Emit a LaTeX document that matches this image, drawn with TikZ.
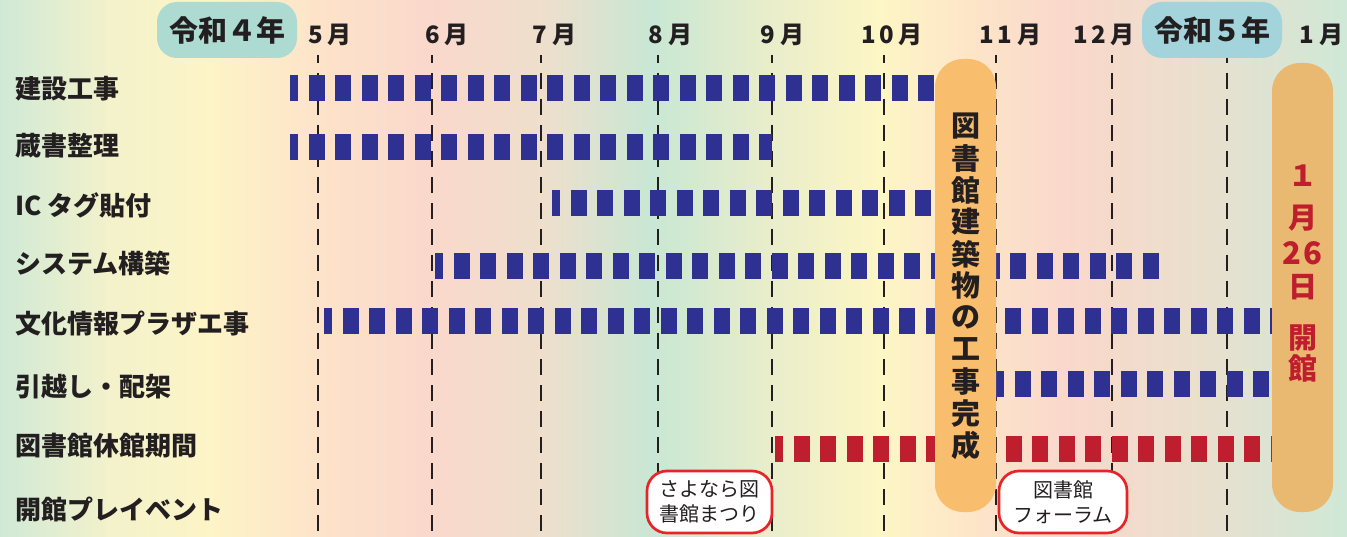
\documentclass[tikz,border=0pt]{standalone}
\usepackage{fontspec}
\newfontfamily\jp{Noto Sans CJK JP}
\definecolor{blueb}{HTML}{2E3192}
\definecolor{redb}{HTML}{BE1E2D}
\definecolor{txt}{HTML}{231F20}
\definecolor{orangeA}{HTML}{F9BD6E}
\definecolor{orangeB}{HTML}{E9B972}
\definecolor{tealA}{HTML}{ADDAD1}
\definecolor{blueA}{HTML}{A3D3DB}
\definecolor{evred}{HTML}{E52629}
\definecolor{g0}{HTML}{D0E9D6}
\definecolor{g1}{HTML}{F3F2CB}
\definecolor{g2}{HTML}{FDF4C7}
\definecolor{g3}{HTML}{FDE3C9}
\definecolor{g4}{HTML}{FAD8CC}
\definecolor{g5}{HTML}{EEDFCC}
\definecolor{g6}{HTML}{C8E7D4}
\definecolor{g7}{HTML}{E8EDCB}
\definecolor{g8}{HTML}{FDF6C5}
\definecolor{g9}{HTML}{FDE6C8}
\definecolor{g10}{HTML}{FAD8CC}
\definecolor{g11}{HTML}{EADFCD}
\definecolor{g12}{HTML}{CFE8D7}
\newcommand{\mgap}{\hspace{5pt}}
\newcommand{\dgap}{\hspace{3pt}}
\begin{document}
\begin{tikzpicture}[x=1pt,y=-1pt,
  bar/.style={line width=26pt, dash pattern=on 16pt off 10.5pt, dash phase=8pt},
  monthline/.style={line width=2.6pt, draw=txt, dash pattern=on 16pt off 10pt, dash phase=8pt},
  rowlab/.style={anchor=west, inner sep=0pt, text=txt, font=\jp\bfseries\fontsize{26}{30}\selectfont},
  monlab/.style={inner sep=0pt, text=txt, font=\jp\bfseries\fontsize{24}{28}\selectfont},
  yearbox/.style={rounded corners=20pt, minimum width=140pt, minimum height=56pt, inner sep=0pt, text=txt, font=\jp\bfseries\fontsize{29}{32}\selectfont},
  pillbox/.style={rounded corners=28pt, minimum width=61pt, inner sep=0pt},
  vt/.style={inner sep=0pt, text=txt, font=\jp\bfseries\fontsize{29}{32}\selectfont},
  vtred/.style={inner sep=0pt, text=redb, font=\jp\bfseries\fontsize{29}{32}\selectfont},
  evbox/.style={draw=evred, line width=2.7pt, fill=white, rounded corners=20pt, minimum width=125pt, minimum height=62pt, inner sep=0pt, align=center, text=txt, font=\jp\fontsize{20}{25}\selectfont}
]
\useasboundingbox (0,0) rectangle (1347,537);
% background gradient
\shade[left color=g0, right color=g1] (0,0) rectangle (110.5,537);
\shade[left color=g1, right color=g2] (110,0) rectangle (210.5,537);
\shade[left color=g2, right color=g3] (210,0) rectangle (320.5,537);
\shade[left color=g3, right color=g4] (320,0) rectangle (430.5,537);
\shade[left color=g4, right color=g5] (430,0) rectangle (545.5,537);
\shade[left color=g5, right color=g6] (545,0) rectangle (650.5,537);
\shade[left color=g6, right color=g7] (650,0) rectangle (765.5,537);
\shade[left color=g7, right color=g8] (765,0) rectangle (880.5,537);
\shade[left color=g8, right color=g9] (880,0) rectangle (965.5,537);
\shade[left color=g9, right color=g10] (965,0) rectangle (1065.5,537);
\shade[left color=g10, right color=g11] (1065,0) rectangle (1200.5,537);
\shade[left color=g11, right color=g12] (1200,0) rectangle (1347,537);

% month dashed lines
\foreach \mx [count=\k] in {318,432,541,658,772,884,996,1112,1227} {
  \coordinate (mt\k) at (\mx,55);
  \coordinate (mb\k) at (\mx,537);
  \draw[monthline] (mt\k) -- (mb\k);
}

% bars
\coordinate (b1s) at (290,88.5);  \coordinate (b1e) at (935,88.5);
\coordinate (b2s) at (290,147);   \coordinate (b2e) at (772,147);
\coordinate (b3s) at (552,203);   \coordinate (b3e) at (935,203);
\coordinate (b4s) at (435,266);   \coordinate (b4e) at (1168,266);
\coordinate (b5s) at (324,321);   \coordinate (b5e) at (1272,321);
\coordinate (b6s) at (996,383.5); \coordinate (b6e) at (1272,383.5);
\coordinate (b7s) at (775,449);   \coordinate (b7e) at (1272,449);
\draw[bar, blueb] (b1s) -- (b1e);
\draw[bar, blueb] (b2s) -- (b2e);
\draw[bar, blueb] (b3s) -- (b3e);
\draw[bar, blueb] (b4s) -- (b4e);
\draw[bar, blueb] (b5s) -- (b5e);
\draw[bar, blueb] (b6s) -- (b6e);
\draw[bar, redb] (b7s) -- (b7e);

% orange pills
\node[pillbox, fill=orangeA, minimum height=453pt] (ob1) at (965.5,285.5) {};
\node[pillbox, fill=orangeB, minimum height=449pt] (ob2) at (1302.5,287.5) {};

\foreach \c [count=\i from 0] in {図,書,館,建,築,物,の,工,事,完,成} {
  \node[vt] (v\i) at (965.5,126.5+31.85*\i) {\c};
}
\node[vtred] (r1) at (1302.5,176) {１};
\node[vtred] (r2) at (1302.5,218) {月};
\node[vtred, font=\jp\bfseries\fontsize{31}{34}\selectfont] (r3) at (1302.5,253) {2\hspace{2pt}6};
\node[vtred] (r4) at (1302.5,287) {日};
\node[vtred] (r5) at (1302.5,338) {開};
\node[vtred] (r6) at (1302.5,368) {館};

% event boxes
\node[evbox] (e1) at (709.5,502) {さよなら図\\書館まつり};
\node[evbox, minimum width=128pt] (e2) at (1063,502) {図書館\\フォーラム};

% year boxes
\node[yearbox, fill=tealA] (y4) at (227,30) {令和４年};
\node[yearbox, fill=blueA] (y5) at (1212,30) {令和５年};

% month labels
\node[monlab] (m5) at (330,35) {5\mgap 月};
\node[monlab] (m6) at (447,35) {6\mgap 月};
\node[monlab] (m7) at (554.5,35) {7\mgap 月};
\node[monlab] (m8) at (670.5,35) {8\mgap 月};
\node[monlab] (m9) at (782.5,35) {9\mgap 月};
\node[monlab] (m10) at (892,35) {1\dgap 0\mgap 月};
\node[monlab] (m11) at (1010.5,35) {1\dgap 1\mgap 月};
\node[monlab] (m12) at (1104,35) {1\dgap 2\mgap 月};
\node[monlab] (m1) at (1321.5,35) {1\mgap 月};

% row labels
\node[rowlab] (l1) at (15,89) {建設工事};
\node[rowlab] (l2) at (15,146) {蔵書整理};
\node[rowlab] (l3) at (15,205) {IC タグ貼付};
\node[rowlab] (l4) at (15,263) {システム構築};
\node[rowlab] (l5) at (15,324) {文化情報プラザエ事};
\node[rowlab] (l6) at (15,387) {引越し・配架};
\node[rowlab] (l7) at (15,446) {図書館休館期間};
\node[rowlab] (l8) at (15,510) {開館プレイベント};
\end{tikzpicture}
\end{document}
